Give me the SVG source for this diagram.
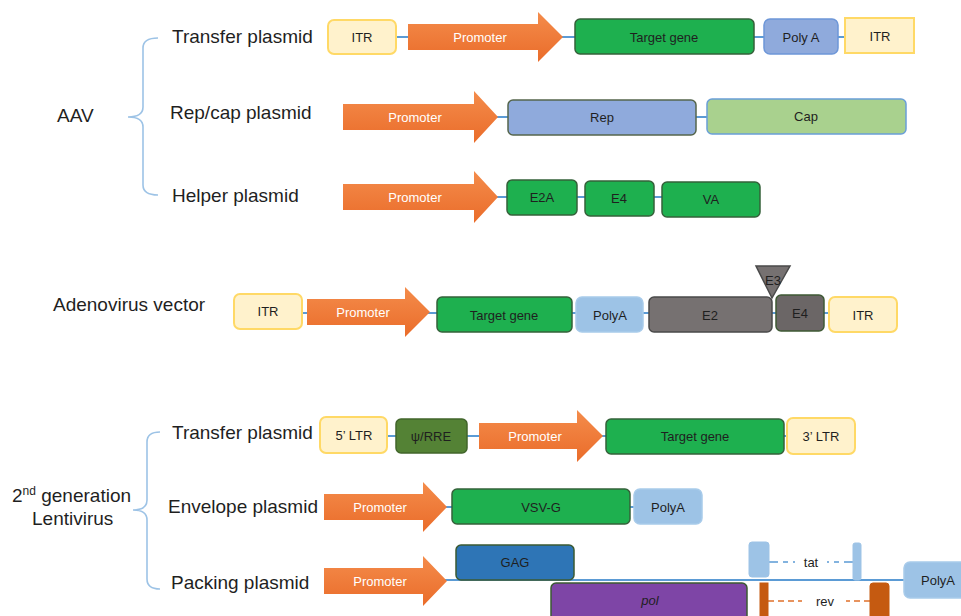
<svg xmlns="http://www.w3.org/2000/svg" width="961" height="616" viewBox="0 0 961 616">
  <defs>
    <linearGradient id="promoterFill" x1="0" y1="0" x2="0" y2="1">
      <stop offset="0" stop-color="#F48C4B"/>
      <stop offset="1" stop-color="#EA6C2A"/>
    </linearGradient>
  </defs>
  <style>
    text { font-family: "Liberation Sans", Arial, sans-serif; fill: #1f1f1f; }
    .label { font-size: 19px; }
    .t { font-size: 13px; text-anchor: middle; }
    .pt { font-size: 13px; text-anchor: middle; fill: #ffffff; }
    .promoter { fill: url(#promoterFill); }
    .backbone { stroke: #5B9BD5; stroke-width: 2; fill: none; }
    .brace { stroke: #9DC3E6; stroke-width: 1.6; fill: none; }
    .itr { fill: #FFF2CC; stroke: #FFD966; stroke-width: 2; }
    .gene { fill: #1EB04F; stroke: #35613A; stroke-width: 1.5; }
    .bluebox { fill: #8FAADC; stroke: #6E97D8; stroke-width: 1.5; }
    .rep { fill: #8FAADC; stroke: #55654C; stroke-width: 1.5; }
    .cap { fill: #A9D18E; stroke: #6A9FD8; stroke-width: 1.5; }
    .polya { fill: #9DC3E6; stroke: #A8CBEA; stroke-width: 1.5; }
    .grey { fill: #767171; stroke: #4A4A4A; stroke-width: 1.5; }
    .grey2 { fill: #6B6666; stroke: #3F5A35; stroke-width: 1.5; }
    .psi { fill: #548235; stroke: #41652B; stroke-width: 1.5; }
    .gag { fill: #2E75B6; stroke: #3B5A32; stroke-width: 1.5; }
    .pol { fill: #7E45A6; stroke: #3B5A32; stroke-width: 1.5; }
    .tat { fill: #9DC3E6; stroke: #9DC3E6; stroke-width: 1; }
    .rev { fill: #C55A11; stroke: #C55A11; stroke-width: 1; }
    .tatline { stroke: #5B9BD5; stroke-width: 1.6; stroke-dasharray: 9 5 5 5 2 5; fill: none; }
    .revline { stroke: #E0702A; stroke-width: 1.6; stroke-dasharray: 6 4; fill: none; }
  </style>

  <rect width="961" height="616" fill="#ffffff"/>

  <!-- braces and row labels -->
  <g id="labels">
    <path class="brace" d="M158,38 Q143,38 143,48 L143,107 Q143,117 128,117 Q143,117 143,127 L143,185 Q143,195 158,195"/>
    <text class="label" x="57" y="122">AAV</text>
    <text class="label" x="172" y="43">Transfer plasmid</text>
    <text class="label" x="170" y="119">Rep/cap plasmid</text>
    <text class="label" x="172" y="202">Helper plasmid</text>
    <text class="label" x="53" y="311">Adenovirus vector</text>
    <path class="brace" d="M160,432 Q147,432 147,442 L147,500 Q147,510 133,510 Q147,510 147,520 L147,579 Q147,589 160,589"/>
    <text class="label" x="12" y="502">2<tspan font-size="12" dy="-7">nd</tspan><tspan dy="7"> generation</tspan></text>
    <text class="label" x="32" y="525">Lentivirus</text>
    <text class="label" x="172" y="439">Transfer plasmid</text>
    <text class="label" x="168" y="513">Envelope plasmid</text>
    <text class="label" x="171" y="589">Packing plasmid</text>
  </g>

  <!-- DNA backbones -->
  <g id="connectors">
    <line class="backbone" x1="396" y1="37" x2="845" y2="37"/>
    <line class="backbone" x1="490" y1="117" x2="707" y2="117"/>
    <line class="backbone" x1="490" y1="197" x2="662" y2="197"/>
    <line class="backbone" x1="302" y1="313" x2="829" y2="313"/>
    <line class="backbone" x1="387" y1="436" x2="787" y2="436"/>
    <line class="backbone" x1="440" y1="507" x2="634" y2="507"/>
    <line class="backbone" x1="440" y1="580" x2="905" y2="580"/>
    <line class="tatline" x1="769" y1="562" x2="798" y2="562"/>
    <line class="tatline" x1="853" y1="562" x2="826" y2="562"/>
    <line class="revline" x1="768" y1="601" x2="802" y2="601"/>
    <line class="revline" x1="870" y1="601" x2="846" y2="601"/>
  </g>

  <!-- AAV transfer plasmid -->
  <g id="aav-transfer">
    <rect class="itr" x="328" y="20" width="68" height="34" rx="6"/>
    <text class="t" x="362" y="42">ITR</text>
    <path class="promoter" d="M408,24 H538 V12 L563,37 L538,62 V50 H408 Z"/>
    <text class="pt" x="480" y="42">Promoter</text>
    <rect class="gene" x="575" y="19" width="179" height="35" rx="5"/>
    <text class="t" x="664" y="42">Target gene</text>
    <rect class="bluebox" x="764" y="19" width="74" height="35" rx="6"/>
    <text class="t" x="801" y="42">Poly A</text>
    <rect class="itr" x="845" y="18" width="69" height="35"/>
    <text class="t" x="880" y="41">ITR</text>
  </g>

  <!-- AAV rep/cap plasmid -->
  <g id="aav-repcap">
    <path class="promoter" d="M343,104 H474 V91 L498,117 L474,143 V130 H343 Z"/>
    <text class="pt" x="415" y="122">Promoter</text>
    <rect class="rep" x="508" y="100" width="188" height="35" rx="5"/>
    <text class="t" x="602" y="122">Rep</text>
    <rect class="cap" x="707" y="99" width="199" height="35" rx="5"/>
    <text class="t" x="806" y="121">Cap</text>
  </g>

  <!-- AAV helper plasmid -->
  <g id="aav-helper">
    <path class="promoter" d="M343,184 H474 V171 L498,197 L474,223 V210 H343 Z"/>
    <text class="pt" x="415" y="202">Promoter</text>
    <rect class="gene" x="507" y="180" width="70" height="35" rx="5"/>
    <text class="t" x="542" y="202">E2A</text>
    <rect class="gene" x="585" y="181" width="69" height="35" rx="5"/>
    <text class="t" x="619" y="203">E4</text>
    <rect class="gene" x="662" y="182" width="98" height="35" rx="5"/>
    <text class="t" x="711" y="204">VA</text>
  </g>

  <!-- Adenovirus vector -->
  <g id="adenovirus">
    <rect class="itr" x="234" y="294" width="68" height="35" rx="6"/>
    <text class="t" x="268" y="316">ITR</text>
    <path class="promoter" d="M307,299 H405 V287 L430,312 L405,337 V325 H307 Z"/>
    <text class="pt" x="363" y="317">Promoter</text>
    <rect class="gene" x="437" y="297" width="135" height="35" rx="5"/>
    <text class="t" x="504" y="320">Target gene</text>
    <rect class="polya" x="576" y="297" width="67" height="35" rx="6"/>
    <text class="t" x="610" y="320">PolyA</text>
    <rect class="grey" x="649" y="297" width="123" height="35" rx="5"/>
    <text class="t" x="710" y="320">E2</text>
    <rect class="grey2" x="776" y="295" width="48" height="36" rx="5"/>
    <text class="t" x="800" y="318">E4</text>
    <rect class="itr" x="829" y="297" width="68" height="35" rx="6"/>
    <text class="t" x="863" y="320">ITR</text>
    <path class="grey" d="M756,266 H790 L772,298 Z"/>
    <text class="t" x="773" y="285">E3</text>
  </g>

  <!-- Lentivirus transfer plasmid -->
  <g id="lenti-transfer">
    <rect class="itr" x="320" y="417" width="67" height="36" rx="6"/>
    <text class="t" x="354" y="440">5’ LTR</text>
    <rect class="psi" x="396" y="419" width="71" height="34" rx="5"/>
    <text class="t" x="431" y="441">ψ/RRE</text>
    <path class="promoter" d="M479,423 H577 V410 L603,436 L577,462 V449 H479 Z"/>
    <text class="pt" x="535" y="441">Promoter</text>
    <rect class="gene" x="606" y="419" width="178" height="35" rx="5"/>
    <text class="t" x="695" y="441">Target gene</text>
    <rect class="itr" x="787" y="418" width="68" height="36" rx="6"/>
    <text class="t" x="821" y="441">3’ LTR</text>
  </g>

  <!-- Lentivirus envelope plasmid -->
  <g id="lenti-envelope">
    <path class="promoter" d="M324,494 H423 V482 L447,507 L423,532 V520 H324 Z"/>
    <text class="pt" x="380" y="512">Promoter</text>
    <rect class="gene" x="452" y="489" width="178" height="35" rx="5"/>
    <text class="t" x="541" y="512">VSV-G</text>
    <rect class="polya" x="634" y="489" width="68" height="35" rx="6"/>
    <text class="t" x="668" y="512">PolyA</text>
  </g>

  <!-- Lentivirus packing plasmid -->
  <g id="lenti-packing">
    <path class="promoter" d="M324,568 H423 V556 L447,581 L423,606 V594 H324 Z"/>
    <text class="pt" x="380" y="586">Promoter</text>
    <rect class="gag" x="456" y="545" width="118" height="35" rx="5"/>
    <text class="t" x="515" y="567">GAG</text>
    <rect class="pol" x="551" y="583" width="196" height="40" rx="5"/>
    <text class="t" x="650" y="605" font-style="italic">pol</text>
    <rect class="tat" x="749" y="542" width="20" height="35" rx="3"/>
    <rect class="tat" x="853" y="543" width="8" height="37" rx="2"/>
    <text class="t" x="811" y="567">tat</text>
    <rect class="rev" x="760" y="583" width="8" height="40"/>
    <rect class="rev" x="870" y="583" width="19" height="40" rx="3"/>
    <text class="t" x="825" y="606">rev</text>
    <rect class="polya" x="904" y="562" width="70" height="36" rx="6"/>
    <text class="t" x="938" y="585">PolyA</text>
  </g>
</svg>
